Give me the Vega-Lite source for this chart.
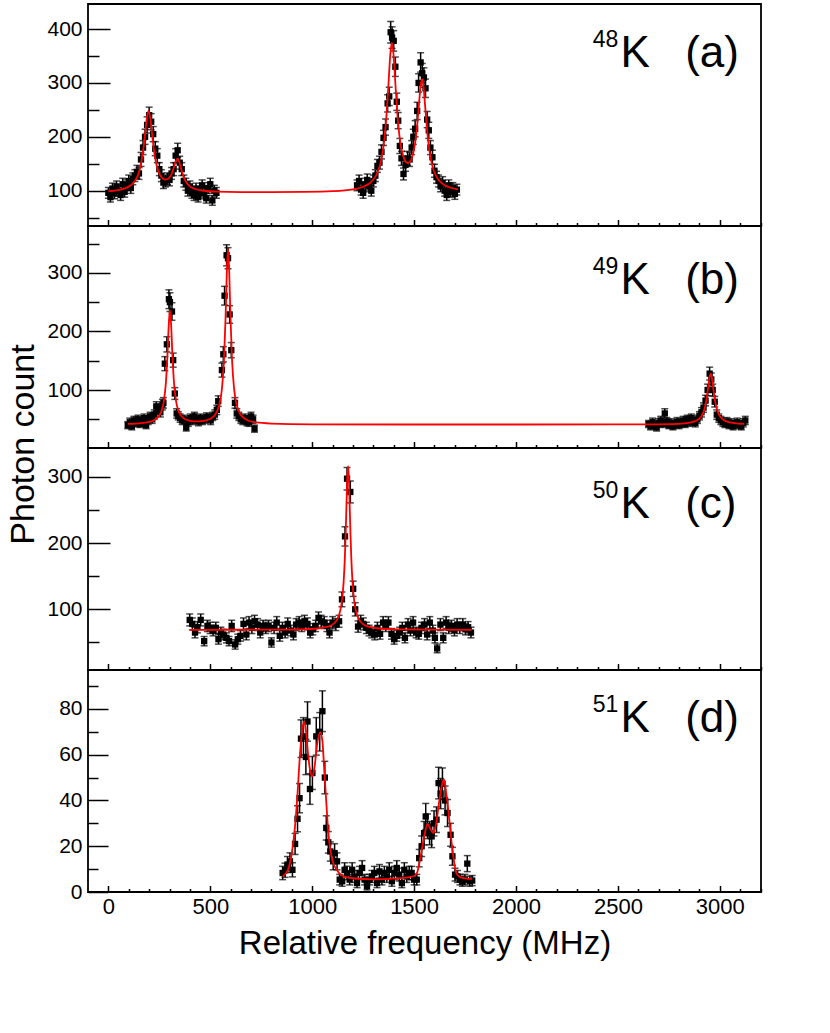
{
  "$schema": "https://vega.github.io/schema/vega-lite/v6.json",
  "background": "white",
  "padding": {"left": 5, "top": 3, "right": 5, "bottom": 5},
  "spacing": 0,
  "bounds": "flush",
  "config": {
    "font": "Liberation Sans",
    "view": {"stroke": "black", "strokeWidth": 1.8},
    "axis": {
      "domain": false, "grid": false, "tickColor": "black", "tickWidth": 1.5,
      "labelColor": "black", "labelFont": "Liberation Sans", "labelFontSize": 21,
      "labelFlush": false, "labelOverlap": false,
      "titleFont": "Liberation Sans", "titleColor": "black", "titleFontWeight": "normal"
    }
  },
  "datasets": {
    "a_pts": [
      {"x":0,"y":96,"e":10},{"x":10,"y":88,"e":9},{"x":20,"y":104,"e":10},{"x":30,"y":95,"e":10},{"x":40,"y":108,"e":10},
      {"x":50,"y":100,"e":10},{"x":60,"y":92,"e":10},{"x":70,"y":112,"e":11},{"x":80,"y":98,"e":10},{"x":90,"y":110,"e":10},
      {"x":100,"y":118,"e":11},{"x":110,"y":105,"e":10},{"x":120,"y":122,"e":11},{"x":130,"y":128,"e":11},{"x":140,"y":135,"e":12},
      {"x":150,"y":132,"e":11},{"x":160,"y":158,"e":13},{"x":170,"y":180,"e":13},{"x":180,"y":200,"e":14},{"x":190,"y":222,"e":15},
      {"x":200,"y":240,"e":15},{"x":210,"y":228,"e":15},{"x":220,"y":205,"e":14},{"x":230,"y":178,"e":13},{"x":240,"y":165,"e":13},
      {"x":250,"y":140,"e":12},{"x":260,"y":128,"e":11},{"x":270,"y":115,"e":11},{"x":280,"y":118,"e":11},{"x":290,"y":122,"e":11},
      {"x":300,"y":120,"e":11},{"x":310,"y":132,"e":11},{"x":320,"y":140,"e":12},{"x":330,"y":165,"e":13},{"x":340,"y":175,"e":13},
      {"x":350,"y":152,"e":12},{"x":360,"y":140,"e":12},{"x":370,"y":118,"e":11},{"x":380,"y":112,"e":11},{"x":390,"y":100,"e":10},
      {"x":400,"y":108,"e":10},{"x":410,"y":96,"e":10},{"x":420,"y":92,"e":10},{"x":430,"y":104,"e":10},{"x":440,"y":88,"e":9},
      {"x":450,"y":98,"e":10},{"x":460,"y":110,"e":10},{"x":470,"y":95,"e":10},{"x":480,"y":86,"e":9},{"x":490,"y":105,"e":10},
      {"x":500,"y":112,"e":11},{"x":510,"y":82,"e":9},{"x":520,"y":100,"e":10},{"x":530,"y":96,"e":10},
      {"x":1220,"y":110,"e":10},{"x":1230,"y":118,"e":11},{"x":1240,"y":102,"e":10},{"x":1250,"y":96,"e":10},{"x":1260,"y":112,"e":11},
      {"x":1270,"y":120,"e":11},{"x":1280,"y":108,"e":10},{"x":1290,"y":100,"e":10},{"x":1300,"y":118,"e":11},{"x":1310,"y":128,"e":11},
      {"x":1320,"y":146,"e":12},{"x":1330,"y":152,"e":12},{"x":1340,"y":172,"e":13},{"x":1350,"y":198,"e":14},{"x":1360,"y":218,"e":15},
      {"x":1370,"y":262,"e":16},{"x":1378,"y":275,"e":17},{"x":1385,"y":394,"e":20},{"x":1392,"y":384,"e":20},{"x":1400,"y":378,"e":19},
      {"x":1408,"y":330,"e":18},{"x":1415,"y":265,"e":16},{"x":1422,"y":230,"e":15},{"x":1430,"y":183,"e":14},{"x":1438,"y":160,"e":13},
      {"x":1448,"y":131,"e":11},{"x":1458,"y":148,"e":12},{"x":1468,"y":160,"e":13},{"x":1478,"y":158,"e":13},{"x":1488,"y":180,"e":13},
      {"x":1496,"y":200,"e":14},{"x":1505,"y":215,"e":15},{"x":1515,"y":248,"e":16},{"x":1522,"y":300,"e":17},{"x":1532,"y":338,"e":18},
      {"x":1540,"y":318,"e":18},{"x":1548,"y":310,"e":18},{"x":1556,"y":290,"e":17},{"x":1564,"y":232,"e":15},{"x":1572,"y":212,"e":15},
      {"x":1580,"y":180,"e":13},{"x":1590,"y":162,"e":13},{"x":1600,"y":137,"e":12},{"x":1610,"y":125,"e":11},{"x":1620,"y":118,"e":11},
      {"x":1630,"y":108,"e":10},{"x":1640,"y":115,"e":11},{"x":1650,"y":100,"e":10},{"x":1660,"y":92,"e":10},{"x":1670,"y":110,"e":10},
      {"x":1680,"y":98,"e":10},{"x":1690,"y":105,"e":10},{"x":1700,"y":94,"e":10},{"x":1710,"y":102,"e":10}
    ],
    "a_fit": [
      {"x":0,"y":99.2},{"x":40,"y":100.8},{"x":80,"y":104.2},{"x":110,"y":110},{"x":130,"y":118},{"x":150,"y":134.4},
      {"x":160,"y":149.3},{"x":170,"y":172.5},{"x":180,"y":205},{"x":188,"y":232.8},{"x":197,"y":248},{"x":206,"y":233.3},
      {"x":215,"y":202.4},{"x":225,"y":171.4},{"x":235,"y":150.1},{"x":250,"y":131.8},{"x":265,"y":123.2},{"x":279,"y":120.5},
      {"x":295,"y":122.5},{"x":310,"y":131},{"x":320,"y":141.7},{"x":330,"y":154.1},{"x":339,"y":159.2},{"x":348,"y":152.9},
      {"x":358,"y":138.9},{"x":370,"y":124.6},{"x":385,"y":113.9},{"x":400,"y":108.1},{"x":430,"y":102.7},{"x":470,"y":99.9},
      {"x":530,"y":98.1},{"x":650,"y":97.4},{"x":800,"y":97.3},{"x":950,"y":97.7},{"x":1100,"y":99.1},{"x":1200,"y":102.6},
      {"x":1250,"y":107.4},{"x":1290,"y":116.5},{"x":1320,"y":133.4},{"x":1340,"y":159.2},{"x":1355,"y":198.2},{"x":1365,"y":242},
      {"x":1375,"y":302.6},{"x":1383,"y":351.9},{"x":1391,"y":374.5},{"x":1399,"y":353.2},{"x":1407,"y":305.4},{"x":1417,"y":246.6},
      {"x":1430,"y":195.8},{"x":1445,"y":165.8},{"x":1460,"y":153.2},{"x":1467,"y":151.4},{"x":1475,"y":152},{"x":1490,"y":161.9},
      {"x":1505,"y":188.5},{"x":1515,"y":221.2},{"x":1525,"y":265.8},{"x":1532,"y":294.9},{"x":1539,"y":306.8},{"x":1546,"y":293.3},
      {"x":1553,"y":262.6},{"x":1563,"y":215.4},{"x":1575,"y":174.4},{"x":1590,"y":145.1},{"x":1610,"y":125.6},{"x":1640,"y":112.7},
      {"x":1680,"y":105.5},{"x":1715,"y":102.5}
    ],
    "a_sup": [{"x":2376,"y":366,"t":"48"}],
    "a_lab": [{"x":2513,"y":329,"t":"K"},{"x":2830,"y":329,"t":"(a)"}],
    "b_pts": [
      {"x":95,"y":40,"e":6},{"x":105,"y":45,"e":7},{"x":115,"y":38,"e":6},{"x":125,"y":48,"e":7},{"x":135,"y":44,"e":7},
      {"x":145,"y":50,"e":7},{"x":155,"y":42,"e":6},{"x":165,"y":46,"e":7},{"x":175,"y":52,"e":7},{"x":185,"y":40,"e":6},
      {"x":195,"y":48,"e":7},{"x":205,"y":55,"e":7},{"x":215,"y":50,"e":7},{"x":225,"y":58,"e":8},{"x":235,"y":72,"e":8},
      {"x":245,"y":68,"e":8},{"x":255,"y":62,"e":8},{"x":265,"y":75,"e":9},{"x":270,"y":78,"e":9},{"x":277,"y":145,"e":12},
      {"x":287,"y":178,"e":13},{"x":297,"y":255,"e":16},{"x":302,"y":250,"e":16},{"x":312,"y":234,"e":15},{"x":318,"y":151,"e":12},
      {"x":326,"y":94,"e":10},{"x":335,"y":60,"e":8},{"x":343,"y":56,"e":7},{"x":352,"y":52,"e":7},{"x":362,"y":48,"e":7},
      {"x":372,"y":50,"e":7},{"x":382,"y":36,"e":6},{"x":392,"y":45,"e":7},{"x":402,"y":52,"e":7},{"x":412,"y":48,"e":7},
      {"x":422,"y":55,"e":7},{"x":432,"y":50,"e":7},{"x":442,"y":46,"e":7},{"x":452,"y":52,"e":7},{"x":462,"y":48,"e":7},
      {"x":472,"y":50,"e":7},{"x":482,"y":54,"e":7},{"x":492,"y":52,"e":7},{"x":502,"y":48,"e":7},{"x":512,"y":55,"e":7},
      {"x":522,"y":58,"e":8},{"x":532,"y":66,"e":8},{"x":539,"y":81,"e":9},{"x":557,"y":134,"e":12},{"x":564,"y":161,"e":13},
      {"x":570,"y":261,"e":16},{"x":580,"y":330,"e":18},{"x":587,"y":325,"e":18},{"x":595,"y":229,"e":15},{"x":603,"y":168,"e":13},
      {"x":621,"y":78,"e":9},{"x":630,"y":60,"e":8},{"x":640,"y":55,"e":7},{"x":650,"y":50,"e":7},{"x":660,"y":48,"e":7},
      {"x":670,"y":52,"e":7},{"x":680,"y":46,"e":7},{"x":690,"y":45,"e":7},{"x":700,"y":55,"e":7},{"x":710,"y":50,"e":7},
      {"x":717,"y":34,"e":6},
      {"x":2650,"y":42,"e":6},{"x":2660,"y":38,"e":6},{"x":2670,"y":45,"e":7},{"x":2680,"y":40,"e":6},{"x":2690,"y":36,"e":6},
      {"x":2700,"y":44,"e":7},{"x":2710,"y":48,"e":7},{"x":2720,"y":42,"e":6},{"x":2730,"y":60,"e":8},{"x":2740,"y":46,"e":7},
      {"x":2750,"y":40,"e":6},{"x":2760,"y":44,"e":7},{"x":2770,"y":38,"e":6},{"x":2780,"y":42,"e":6},{"x":2790,"y":46,"e":7},
      {"x":2800,"y":40,"e":6},{"x":2810,"y":44,"e":7},{"x":2820,"y":48,"e":7},{"x":2830,"y":42,"e":6},{"x":2840,"y":50,"e":7},
      {"x":2850,"y":45,"e":7},{"x":2860,"y":52,"e":7},{"x":2870,"y":46,"e":7},{"x":2880,"y":44,"e":7},{"x":2890,"y":50,"e":7},
      {"x":2900,"y":56,"e":7},{"x":2910,"y":62,"e":8},{"x":2920,"y":70,"e":8},{"x":2930,"y":82,"e":9},{"x":2940,"y":100,"e":10},
      {"x":2950,"y":128,"e":11},{"x":2958,"y":118,"e":11},{"x":2965,"y":100,"e":10},{"x":2975,"y":80,"e":9},{"x":2985,"y":58,"e":8},
      {"x":2995,"y":52,"e":7},{"x":3005,"y":48,"e":7},{"x":3015,"y":45,"e":7},{"x":3025,"y":42,"e":6},{"x":3035,"y":46,"e":7},
      {"x":3045,"y":40,"e":6},{"x":3055,"y":44,"e":7},{"x":3065,"y":38,"e":6},{"x":3075,"y":42,"e":6},{"x":3085,"y":45,"e":7},
      {"x":3095,"y":40,"e":6},{"x":3105,"y":38,"e":6},{"x":3115,"y":44,"e":7},{"x":3125,"y":48,"e":7}
    ],
    "b_fit": [
      {"x":95,"y":42.3},{"x":150,"y":43.2},{"x":200,"y":45.6},{"x":230,"y":49.6},{"x":250,"y":56.6},{"x":262,"y":65.6},
      {"x":272,"y":80.7},{"x":282,"y":111.9},{"x":290,"y":160.7},{"x":296,"y":209.9},{"x":302,"y":236.8},{"x":308,"y":210},
      {"x":314,"y":160.9},{"x":322,"y":112.1},{"x":332,"y":81},{"x":342,"y":66.1},{"x":355,"y":56.7},{"x":380,"y":49.6},
      {"x":420,"y":46.5},{"x":460,"y":46.9},{"x":500,"y":50.8},{"x":525,"y":58.5},{"x":545,"y":75.6},{"x":557,"y":101.7},
      {"x":567,"y":149.6},{"x":575,"y":224.6},{"x":581,"y":300.2},{"x":587,"y":341.5},{"x":593,"y":300.1},{"x":599,"y":224.5},
      {"x":607,"y":149.5},{"x":617,"y":101.5},{"x":629,"y":75.3},{"x":650,"y":57.4},{"x":680,"y":48.9},{"x":720,"y":45},
      {"x":800,"y":42.7},{"x":1000,"y":41.5},{"x":1500,"y":41.1},{"x":2000,"y":41.1},{"x":2500,"y":41.2},{"x":2650,"y":41.4},
      {"x":2750,"y":41.8},{"x":2830,"y":43.2},{"x":2880,"y":46.8},{"x":2905,"y":53},{"x":2920,"y":62.4},{"x":2932,"y":78.5},
      {"x":2942,"y":102.2},{"x":2949,"y":120.8},{"x":2955,"y":128},{"x":2961,"y":120.8},{"x":2968,"y":102.2},{"x":2978,"y":78.5},
      {"x":2990,"y":62.4},{"x":3005,"y":53},{"x":3030,"y":46.8},{"x":3070,"y":43.6},{"x":3120,"y":42.3}
    ],
    "b_sup": [{"x":2376,"y":298,"t":"49"}],
    "b_lab": [{"x":2513,"y":264,"t":"K"},{"x":2830,"y":264,"t":"(b)"}],
    "c_pts": [
      {"x":399,"y":84,"e":9},{"x":412,"y":78,"e":9},{"x":425,"y":65,"e":8},{"x":437,"y":73,"e":8.5},{"x":453,"y":84,"e":9},
      {"x":470,"y":52,"e":7},{"x":486,"y":75,"e":8.5},{"x":499,"y":72,"e":8.5},{"x":514,"y":68,"e":8},{"x":527,"y":72,"e":8.5},
      {"x":540,"y":55,"e":7.5},{"x":552,"y":65,"e":8},{"x":564,"y":62,"e":8},{"x":579,"y":57,"e":7.5},{"x":592,"y":52,"e":7},
      {"x":605,"y":75,"e":8.5},{"x":622,"y":47,"e":7},{"x":635,"y":55,"e":7.5},{"x":648,"y":60,"e":8},{"x":663,"y":78,"e":9},
      {"x":677,"y":62,"e":8},{"x":690,"y":80,"e":9},{"x":704,"y":72,"e":8.5},{"x":717,"y":82,"e":9},{"x":732,"y":77,"e":9},
      {"x":745,"y":65,"e":8},{"x":759,"y":75,"e":8.5},{"x":772,"y":72,"e":8.5},{"x":786,"y":75,"e":8.5},{"x":800,"y":50,"e":7},
      {"x":813,"y":72,"e":8.5},{"x":826,"y":80,"e":9},{"x":841,"y":60,"e":8},{"x":854,"y":72,"e":8.5},{"x":867,"y":65,"e":8},
      {"x":880,"y":78,"e":9},{"x":895,"y":68,"e":8},{"x":908,"y":62,"e":8},{"x":921,"y":77,"e":9},{"x":936,"y":80,"e":9},
      {"x":949,"y":75,"e":8.5},{"x":962,"y":82,"e":9},{"x":977,"y":78,"e":9},{"x":990,"y":65,"e":8},{"x":1003,"y":70,"e":8.5},
      {"x":1017,"y":75,"e":8.5},{"x":1031,"y":87,"e":9},{"x":1044,"y":82,"e":9},{"x":1059,"y":80,"e":9},{"x":1072,"y":75,"e":8.5},
      {"x":1085,"y":65,"e":8},{"x":1100,"y":80,"e":9},{"x":1116,"y":77,"e":9},{"x":1132,"y":82,"e":9},{"x":1146,"y":115,"e":11},
      {"x":1161,"y":210,"e":14.5},{"x":1171,"y":297,"e":17},{"x":1187,"y":277,"e":16.5},{"x":1201,"y":131,"e":11.5},{"x":1211,"y":100,"e":10},
      {"x":1225,"y":74,"e":8.5},{"x":1238,"y":82,"e":9},{"x":1251,"y":78,"e":9},{"x":1266,"y":72,"e":8.5},{"x":1279,"y":68,"e":8},
      {"x":1292,"y":65,"e":8},{"x":1307,"y":62,"e":8},{"x":1320,"y":72,"e":8.5},{"x":1333,"y":63,"e":8},{"x":1348,"y":80,"e":9},
      {"x":1361,"y":75,"e":8.5},{"x":1374,"y":80,"e":9},{"x":1389,"y":63,"e":8},{"x":1402,"y":55,"e":7.5},{"x":1415,"y":60,"e":8},
      {"x":1429,"y":65,"e":8},{"x":1442,"y":72,"e":8.5},{"x":1455,"y":57,"e":7.5},{"x":1470,"y":77,"e":9},{"x":1482,"y":68,"e":8},
      {"x":1495,"y":80,"e":9},{"x":1510,"y":65,"e":8},{"x":1523,"y":63,"e":8},{"x":1536,"y":72,"e":8.5},{"x":1551,"y":77,"e":9},
      {"x":1564,"y":62,"e":8},{"x":1577,"y":80,"e":9},{"x":1592,"y":68,"e":8},{"x":1602,"y":57,"e":7.5},{"x":1613,"y":41,"e":6.5},
      {"x":1629,"y":77,"e":9},{"x":1643,"y":57,"e":7.5},{"x":1657,"y":80,"e":9},{"x":1670,"y":72,"e":8.5},{"x":1683,"y":75,"e":8.5},
      {"x":1698,"y":68,"e":8},{"x":1711,"y":77,"e":9},{"x":1724,"y":72,"e":8.5},{"x":1739,"y":77,"e":9},{"x":1752,"y":70,"e":8.5},
      {"x":1765,"y":73,"e":8.5},{"x":1779,"y":65,"e":8}
    ],
    "c_fit": [
      {"x":400,"y":69.1},{"x":600,"y":69.2},{"x":800,"y":69.3},{"x":926,"y":69.8},{"x":1026,"y":71.1},{"x":1076,"y":73.8},
      {"x":1101,"y":77.3},{"x":1121,"y":84},{"x":1136,"y":95.9},{"x":1146,"y":113.2},{"x":1154,"y":140.2},{"x":1160,"y":176.1},
      {"x":1164,"y":211.4},{"x":1168,"y":255.2},{"x":1172,"y":297.4},{"x":1176,"y":316},{"x":1180,"y":297.4},{"x":1184,"y":255.2},
      {"x":1188,"y":211.4},{"x":1192,"y":176.1},{"x":1198,"y":140.2},{"x":1206,"y":113.2},{"x":1216,"y":95.9},{"x":1231,"y":84},
      {"x":1251,"y":77.3},{"x":1276,"y":73.8},{"x":1326,"y":71.1},{"x":1426,"y":69.8},{"x":1600,"y":69.3},{"x":1780,"y":69.1}
    ],
    "c_sup": [{"x":2376,"y":268,"t":"50"}],
    "c_lab": [{"x":2513,"y":238,"t":"K"},{"x":2830,"y":238,"t":"(c)"}],
    "d_pts": [
      {"x":855,"y":8.3,"e":2.9},{"x":867,"y":9.5,"e":3.1},{"x":879,"y":12,"e":3.5},{"x":891,"y":13.4,"e":3.7},{"x":903,"y":9.7,"e":3.1},
      {"x":916,"y":21,"e":4.6},{"x":928,"y":32,"e":5.7},{"x":938,"y":41,"e":6.4},{"x":945,"y":67,"e":8.2},{"x":957,"y":68,"e":8.2},
      {"x":969,"y":59,"e":7.7},{"x":977,"y":74.5,"e":8.6},{"x":989,"y":45,"e":6.7},{"x":1001,"y":52,"e":7.2},{"x":1020,"y":68,"e":8.2},
      {"x":1037,"y":70,"e":8.4},{"x":1050,"y":79,"e":8.9},{"x":1062,"y":50,"e":7.1},{"x":1069,"y":28,"e":5.3},{"x":1079,"y":21.7,"e":4.7},
      {"x":1089,"y":17.7,"e":4.2},{"x":1103,"y":13.4,"e":3.7},{"x":1110,"y":17,"e":4.1},{"x":1122,"y":13.4,"e":3.7},{"x":1135,"y":5.4,"e":2.3},
      {"x":1147,"y":4.7,"e":2.2},{"x":1159,"y":9.7,"e":3.1},{"x":1171,"y":8.3,"e":2.9},{"x":1184,"y":5.4,"e":2.3},{"x":1196,"y":9.7,"e":3.1},
      {"x":1208,"y":6.8,"e":2.6},{"x":1220,"y":3.9,"e":2},{"x":1232,"y":8.3,"e":2.9},{"x":1245,"y":10.5,"e":3.2},{"x":1257,"y":5.4,"e":2.3},
      {"x":1269,"y":2.5,"e":1.6},{"x":1281,"y":5.4,"e":2.3},{"x":1293,"y":6.8,"e":2.6},{"x":1305,"y":8.3,"e":2.9},{"x":1318,"y":3.9,"e":2},
      {"x":1330,"y":9,"e":3},{"x":1342,"y":5.4,"e":2.3},{"x":1354,"y":8.3,"e":2.9},{"x":1366,"y":6.8,"e":2.6},{"x":1378,"y":9.7,"e":3.1},
      {"x":1391,"y":4.7,"e":2.2},{"x":1403,"y":8.3,"e":2.9},{"x":1415,"y":10.5,"e":3.2},{"x":1427,"y":7.6,"e":2.8},{"x":1440,"y":3.9,"e":2},
      {"x":1452,"y":9.7,"e":3.1},{"x":1464,"y":6.8,"e":2.6},{"x":1476,"y":8.3,"e":2.9},{"x":1488,"y":8.3,"e":2.9},{"x":1500,"y":5.4,"e":2.3},
      {"x":1513,"y":5.4,"e":2.3},{"x":1525,"y":14.8,"e":3.8},{"x":1537,"y":20,"e":4.5},{"x":1549,"y":25.7,"e":5.1},{"x":1557,"y":33,"e":5.7},
      {"x":1566,"y":28.7,"e":5.4},{"x":1576,"y":25.7,"e":5.1},{"x":1586,"y":24.3,"e":4.9},{"x":1598,"y":30,"e":5.5},{"x":1610,"y":31.6,"e":5.6},
      {"x":1620,"y":47.6,"e":6.9},{"x":1630,"y":43,"e":6.6},{"x":1639,"y":47.3,"e":6.9},{"x":1652,"y":40,"e":6.3},{"x":1664,"y":34.5,"e":5.9},
      {"x":1679,"y":25,"e":5},{"x":1688,"y":15.6,"e":3.9},{"x":1701,"y":7.6,"e":2.8},{"x":1713,"y":6.8,"e":2.6},{"x":1725,"y":5.4,"e":2.3},
      {"x":1737,"y":4.7,"e":2.2},{"x":1749,"y":5.4,"e":2.3},{"x":1761,"y":12.4,"e":3.5},{"x":1773,"y":4.7,"e":2.2},{"x":1785,"y":5,"e":2.2}
    ],
    "d_fit": [
      {"x":855,"y":6.8},{"x":880,"y":9.5},{"x":900,"y":17},{"x":915,"y":28},{"x":928,"y":43},{"x":940,"y":60},
      {"x":950,"y":70},{"x":960,"y":74.5},{"x":970,"y":70},{"x":980,"y":60},{"x":990,"y":53},{"x":1001,"y":50.5},
      {"x":1012,"y":55},{"x":1025,"y":65},{"x":1040,"y":69.7},{"x":1050,"y":66},{"x":1060,"y":52},{"x":1070,"y":38},
      {"x":1080,"y":25},{"x":1090,"y":18},{"x":1100,"y":13.5},{"x":1120,"y":9.7},{"x":1150,"y":7},{"x":1200,"y":6},
      {"x":1300,"y":5.5},{"x":1400,"y":5.8},{"x":1460,"y":6.3},{"x":1500,"y":7},{"x":1515,"y":8.5},{"x":1532,"y":15.6},
      {"x":1549,"y":24},{"x":1566,"y":29.8},{"x":1580,"y":27.5},{"x":1595,"y":25.7},{"x":1610,"y":31},{"x":1622,"y":38.8},
      {"x":1635,"y":46},{"x":1646,"y":49.3},{"x":1658,"y":43},{"x":1671,"y":33},{"x":1688,"y":18.5},{"x":1707,"y":8.3},
      {"x":1725,"y":6.5},{"x":1750,"y":6},{"x":1785,"y":5.7}
    ],
    "d_sup": [{"x":2376,"y":78.8,"t":"51"}],
    "d_lab": [{"x":2513,"y":70.1,"t":"K"},{"x":2830,"y":70.1,"t":"(d)"}]
  },
  "vconcat": [
    {
      "width": 673, "height": 222,
      "encoding": {
        "x": {"field": "x", "type": "quantitative", "scale": {"domain": [-100, 3202], "nice": false, "zero": false},
          "axis": {"title": null, "labels": false, "values": [0,100,200,300,400,500,600,700,800,900,1000,1100,1200,1300,1400,1500,1600,1700,1800,1900,2000,2100,2200,2300,2400,2500,2600,2700,2800,2900,3000,3100,3200],
            "tickSize": {"condition": {"test": "datum.value % 500 === 0", "value": -6.5}, "value": -3.5}}},
        "y": {"field": "y", "type": "quantitative", "scale": {"domain": [34.5, 446.4], "nice": false, "zero": false},
          "axis": {"title": null, "values": [50,100,150,200,250,300,350,400], "format": "d", "labelPadding": 28,
            "labelExpr": "datum.value % 100 === 0 ? datum.label : ''",
            "tickSize": {"condition": {"test": "datum.value % 100 === 0", "value": -22}, "value": -11}}}
      },
      "layer": [
        {"data": {"name": "a_pts"}, "mark": {"type": "errorbar", "ticks": true, "size": 7, "thickness": 1.5, "color": "black"}, "encoding": {"yError": {"field": "e"}}},
        {"data": {"name": "a_pts"}, "mark": {"type": "square", "size": 40, "color": "black", "opacity": 1}},
        {"data": {"name": "a_fit"}, "mark": {"type": "line", "color": "#ff0000", "strokeWidth": 1.8, "interpolate": "monotone"}},
        {"data": {"name": "a_sup"}, "mark": {"type": "text", "fontSize": 23, "align": "left", "baseline": "alphabetic", "color": "black"}, "encoding": {"text": {"field": "t"}}},
        {"data": {"name": "a_lab"}, "mark": {"type": "text", "fontSize": 44, "align": "left", "baseline": "alphabetic", "color": "black"}, "encoding": {"text": {"field": "t"}}}
      ]
    },
    {
      "width": 673, "height": 222,
      "encoding": {
        "x": {"field": "x", "type": "quantitative", "scale": {"domain": [-100, 3202], "nice": false, "zero": false},
          "axis": {"title": null, "labels": false, "values": [0,100,200,300,400,500,600,700,800,900,1000,1100,1200,1300,1400,1500,1600,1700,1800,1900,2000,2100,2200,2300,2400,2500,2600,2700,2800,2900,3000,3100,3200],
            "tickSize": {"condition": {"test": "datum.value % 500 === 0", "value": -6.5}, "value": -3.5}}},
        "y": {"field": "y", "type": "quantitative", "scale": {"domain": [1, 380], "nice": false, "zero": false},
          "axis": {"title": "Photon count", "titleFontSize": 34, "titleAngle": 270, "titleAlign": "center", "titleBaseline": "alphabetic", "titleX": -55, "titleY": 218,
            "values": [50,100,150,200,250,300,350], "format": "d", "labelPadding": 28,
            "labelExpr": "datum.value % 100 === 0 ? datum.label : ''",
            "tickSize": {"condition": {"test": "datum.value % 100 === 0", "value": -22}, "value": -11}}}
      },
      "layer": [
        {"data": {"name": "b_pts"}, "mark": {"type": "errorbar", "ticks": true, "size": 7, "thickness": 1.5, "color": "black"}, "encoding": {"yError": {"field": "e"}}},
        {"data": {"name": "b_pts"}, "mark": {"type": "square", "size": 40, "color": "black", "opacity": 1}},
        {"data": {"name": "b_fit"}, "mark": {"type": "line", "color": "#ff0000", "strokeWidth": 1.8, "interpolate": "monotone"}},
        {"data": {"name": "b_sup"}, "mark": {"type": "text", "fontSize": 23, "align": "left", "baseline": "alphabetic", "color": "black"}, "encoding": {"text": {"field": "t"}}},
        {"data": {"name": "b_lab"}, "mark": {"type": "text", "fontSize": 44, "align": "left", "baseline": "alphabetic", "color": "black"}, "encoding": {"text": {"field": "t"}}}
      ]
    },
    {
      "width": 673, "height": 222,
      "encoding": {
        "x": {"field": "x", "type": "quantitative", "scale": {"domain": [-100, 3202], "nice": false, "zero": false},
          "axis": {"title": null, "labels": false, "values": [0,100,200,300,400,500,600,700,800,900,1000,1100,1200,1300,1400,1500,1600,1700,1800,1900,2000,2100,2200,2300,2400,2500,2600,2700,2800,2900,3000,3100,3200],
            "tickSize": {"condition": {"test": "datum.value % 500 === 0", "value": -6.5}, "value": -3.5}}},
        "y": {"field": "y", "type": "quantitative", "scale": {"domain": [8.5, 343.3], "nice": false, "zero": false},
          "axis": {"title": null, "values": [50,100,150,200,250,300], "format": "d", "labelPadding": 28,
            "labelExpr": "datum.value % 100 === 0 ? datum.label : ''",
            "tickSize": {"condition": {"test": "datum.value % 100 === 0", "value": -22}, "value": -11}}}
      },
      "layer": [
        {"data": {"name": "c_pts"}, "mark": {"type": "errorbar", "ticks": true, "size": 7, "thickness": 1.5, "color": "black"}, "encoding": {"yError": {"field": "e"}}},
        {"data": {"name": "c_pts"}, "mark": {"type": "square", "size": 40, "color": "black", "opacity": 1}},
        {"data": {"name": "c_fit"}, "mark": {"type": "line", "color": "#ff0000", "strokeWidth": 1.8, "interpolate": "monotone"}},
        {"data": {"name": "c_sup"}, "mark": {"type": "text", "fontSize": 23, "align": "left", "baseline": "alphabetic", "color": "black"}, "encoding": {"text": {"field": "t"}}},
        {"data": {"name": "c_lab"}, "mark": {"type": "text", "fontSize": 44, "align": "left", "baseline": "alphabetic", "color": "black"}, "encoding": {"text": {"field": "t"}}}
      ]
    },
    {
      "width": 673, "height": 222,
      "encoding": {
        "x": {"field": "x", "type": "quantitative", "scale": {"domain": [-100, 3202], "nice": false, "zero": false},
          "axis": {"title": "Relative frequency (MHz)", "titleFontSize": 33, "titleBaseline": "alphabetic", "titleY": 61,
            "format": "d", "labelPadding": 10.5, "labelFontSize": 22,
            "labelExpr": "datum.value % 500 === 0 ? datum.label : ''",
            "values": [0,100,200,300,400,500,600,700,800,900,1000,1100,1200,1300,1400,1500,1600,1700,1800,1900,2000,2100,2200,2300,2400,2500,2600,2700,2800,2900,3000,3100,3200],
            "tickSize": {"condition": {"test": "datum.value % 500 === 0", "value": -6.5}, "value": -3.5}}},
        "y": {"field": "y", "type": "quantitative", "scale": {"domain": [0, 97], "nice": false, "zero": false},
          "axis": {"title": null, "values": [0,10,20,30,40,50,60,70,80,90], "format": "d", "labelPadding": 26,
            "labelExpr": "datum.value % 20 === 0 ? datum.label : ''",
            "tickSize": {"condition": {"test": "datum.value % 20 === 0", "value": -20}, "value": -10}}}
      },
      "layer": [
        {"data": {"name": "d_pts"}, "mark": {"type": "errorbar", "ticks": true, "size": 7, "thickness": 1.5, "color": "black"}, "encoding": {"yError": {"field": "e"}}},
        {"data": {"name": "d_pts"}, "mark": {"type": "square", "size": 40, "color": "black", "opacity": 1}},
        {"data": {"name": "d_fit"}, "mark": {"type": "line", "color": "#ff0000", "strokeWidth": 1.8, "interpolate": "monotone"}},
        {"data": {"name": "d_sup"}, "mark": {"type": "text", "fontSize": 23, "align": "left", "baseline": "alphabetic", "color": "black"}, "encoding": {"text": {"field": "t"}}},
        {"data": {"name": "d_lab"}, "mark": {"type": "text", "fontSize": 44, "align": "left", "baseline": "alphabetic", "color": "black"}, "encoding": {"text": {"field": "t"}}}
      ]
    }
  ]
}
